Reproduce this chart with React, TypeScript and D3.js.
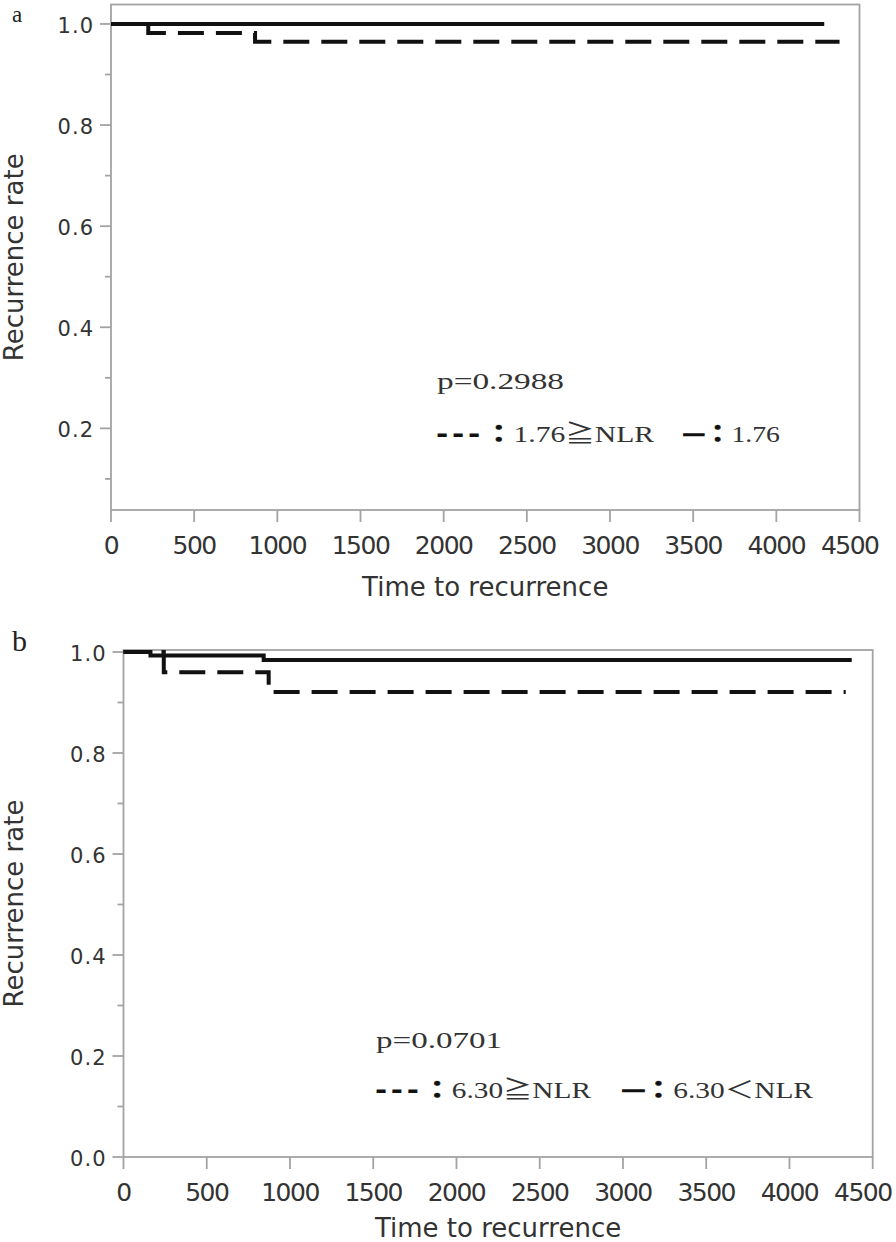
import React from "react";
import * as d3 from "d3";

// ---------- data ----------
const xTickValues = [0, 500, 1000, 1500, 2000, 2500, 3000, 3500, 4000, 4500];
const yMajorA = [0.2, 0.4, 0.6, 0.8, 1.0];
const yMinorA = [0.1, 0.3, 0.5, 0.7, 0.9];
const yMajorB = [0.0, 0.2, 0.4, 0.6, 0.8, 1.0];
const yMinorB = [0.1, 0.3, 0.5, 0.7, 0.9];

// panel a (cut-off 1.76)
const aSolidTime = [0, 4288];
const aSolidRate = [1.0, 1.0];
const aDashTime = [0, 224, 866, 4380];
const aDashRate = [1.0, 0.982, 0.965, 0.965];

// panel b (cut-off 6.30)
const bSolidTime = [0, 162, 842, 4374];
const bSolidRate = [1.0, 0.993, 0.984, 0.984];
const bDashTime = [0, 242, 872, 4338];
const bDashRate = [1.0, 0.96, 0.921, 0.921];

const pValueA = "p=0.2988";
const pValueB = "p=0.0701";
const xTitle = "Time to recurrence";
const yTitle = "Recurrence rate";

// ---------- layout ----------
type Cfg = {
  letter: string;
  letterSize: number;
  letterBase: number;
  left: number;
  right: number;
  top: number;
  bottom: number;
  yDomain: [number, number];
  yMajor: number[];
  yMinor: number[];
  solid: [number[], number[]];
  dash: [number[], number[]];
  titleBase: number;
  pText: string;
  pX: number;
  pBase: number;
  pLen: number;
  leg1: string;
  leg1Len: number;
  leg2: string;
  leg2X: number;
  leg2Len: number;
  legBase: number;
};

const panels: Cfg[] = [
  {
    letter: "a",
    letterSize: 23,
    letterBase: 21.5,
    left: 111,
    right: 859.5,
    top: 4.5,
    bottom: 510,
    yDomain: [0.0385, 1.0385],
    yMajor: yMajorA,
    yMinor: yMinorA,
    solid: [aSolidTime, aSolidRate],
    dash: [aDashTime, aDashRate],
    titleBase: 596,
    pText: pValueA,
    pX: 437,
    pBase: 389,
    pLen: 127,
    leg1: "1.76≧NLR",
    leg1Len: 218,
    leg2: "1.76",
    leg2X: 684,
    leg2Len: 96,
    legBase: 441.5,
  },
  {
    letter: "b",
    letterSize: 30,
    letterBase: 651,
    left: 123.5,
    right: 872.7,
    top: 650,
    bottom: 1157,
    yDomain: [0, 1.004],
    yMajor: yMajorB,
    yMinor: yMinorB,
    solid: [bSolidTime, bSolidRate],
    dash: [bDashTime, bDashRate],
    titleBase: 1237,
    pText: pValueB,
    pX: 376,
    pBase: 1047.5,
    pLen: 126,
    leg1: "6.30≧NLR",
    leg1Len: 216,
    leg2: "6.30＜NLR",
    leg2X: 623,
    leg2Len: 190,
    legBase: 1098,
  },
];

const AXIS = "#a3a3a3";
const SANS = "'DejaVu Sans', Verdana, sans-serif";
const SERIF = "'Liberation Serif', 'Times New Roman', 'Noto Sans CJK JP', serif";

function Panel({ c }: { c: Cfg }) {
  const x = d3.scaleLinear().domain([0, 4500]).range([c.left, c.right]);
  const y = d3.scaleLinear().domain(c.yDomain).range([c.bottom, c.top]);
  const line = d3
    .line<[number, number]>()
    .x((d) => x(d[0]))
    .y((d) => y(d[1]))
    .curve(d3.curveStepAfter);
  const pts = (s: [number[], number[]]) =>
    s[0].map((t, i) => [t, s[1][i]] as [number, number]);
  const cy = (c.top + c.bottom) / 2;
  const cx = (c.left + c.right) / 2;
  const lastTick = xTickValues[xTickValues.length - 1];
  return (
    <g>
      <text
        x={12}
        y={c.letterBase}
        fontFamily={SERIF}
        fontSize={c.letterSize}
        fill="#222"
      >
        {c.letter}
      </text>
      <rect
        x={c.left}
        y={c.top}
        width={c.right - c.left}
        height={c.bottom - c.top}
        fill="none"
        stroke={AXIS}
        strokeWidth={1.8}
      />
      {c.yMajor.map((v) => (
        <g key={"ym" + v}>
          <line
            x1={c.left - 11}
            x2={c.left}
            y1={y(v)}
            y2={y(v)}
            stroke={AXIS}
            strokeWidth={1.8}
          />
          <text
            x={c.left - 17}
            y={y(v) + 9}
            textAnchor="end"
            fontFamily={SANS}
            fontSize={21}
            letterSpacing={1}
            fill="#333"
          >
            {d3.format(".1f")(v)}
          </text>
        </g>
      ))}
      {c.yMinor.map((v) => (
        <line
          key={"yn" + v}
          x1={c.left - 6}
          x2={c.left}
          y1={y(v)}
          y2={y(v)}
          stroke={AXIS}
          strokeWidth={1.8}
        />
      ))}
      {xTickValues.map((v) => (
        <g key={"x" + v}>
          <line
            x1={x(v)}
            x2={x(v)}
            y1={c.bottom}
            y2={c.bottom + 12}
            stroke={AXIS}
            strokeWidth={1.8}
          />
          <text
            x={v === lastTick ? x(v) + 19 : x(v)}
            y={c.bottom + 43.5}
            textAnchor={v === lastTick ? "end" : "middle"}
            fontFamily={SANS}
            fontSize={25}
            letterSpacing={-1.5}
            fill="#333"
          >
            {v}
          </text>
        </g>
      ))}
      <text
        x={cx}
        y={c.titleBase}
        textAnchor="middle"
        fontFamily={SANS}
        fontSize={26}
        fill="#333"
      >
        {xTitle}
      </text>
      <text
        transform={`translate(23,${cy}) rotate(-90)`}
        textAnchor="middle"
        fontFamily={SANS}
        fontSize={26}
        fill="#333"
      >
        {yTitle}
      </text>
      <path
        d={line(pts(c.solid)) || ""}
        fill="none"
        stroke="#111"
        strokeWidth={4}
      />
      <path
        d={line(pts(c.dash)) || ""}
        fill="none"
        stroke="#111"
        strokeWidth={4}
        strokeDasharray="26 12"
      />
      <text
        x={c.pX}
        y={c.pBase}
        fontFamily={SERIF}
        fontSize={24}
        fill="#333"
        textLength={c.pLen}
        lengthAdjust="spacingAndGlyphs"
      >
        {c.pText}
      </text>
      <text
        x={c.pX - 1}
        y={c.legBase}
        fontFamily={SERIF}
        fontSize={24}
        fill="#333"
        textLength={c.leg1Len}
        lengthAdjust="spacingAndGlyphs"
      >
        <tspan fontFamily={SANS} fontWeight={700} fill="#111" letterSpacing={3}>---</tspan>
        <tspan fontWeight={700} fill="#111" stroke="#111" strokeWidth={0.6}>：</tspan>
        <tspan>{c.leg1}</tspan>
      </text>
      <text
        x={c.leg2X}
        y={c.legBase}
        fontFamily={SERIF}
        fontSize={24}
        fill="#333"
        textLength={c.leg2Len}
        lengthAdjust="spacingAndGlyphs"
      >
        <tspan fontWeight={700} fill="#111" stroke="#111" strokeWidth={1.4}>─</tspan>
        <tspan fontWeight={700} fill="#111" stroke="#111" strokeWidth={0.6}>：</tspan>
        <tspan>{c.leg2}</tspan>
      </text>
    </g>
  );
}

export default function App() {
  return (
    <svg
      width={896}
      height={1242}
      viewBox="0 0 896 1242"
      style={{ position: "absolute", left: 0, top: 0, display: "block", background: "#fff" }}
    >
      <rect x={0} y={0} width={896} height={1242} fill="#fff" />
      {panels.map((c) => (
        <Panel key={c.letter} c={c} />
      ))}
    </svg>
  );
}
